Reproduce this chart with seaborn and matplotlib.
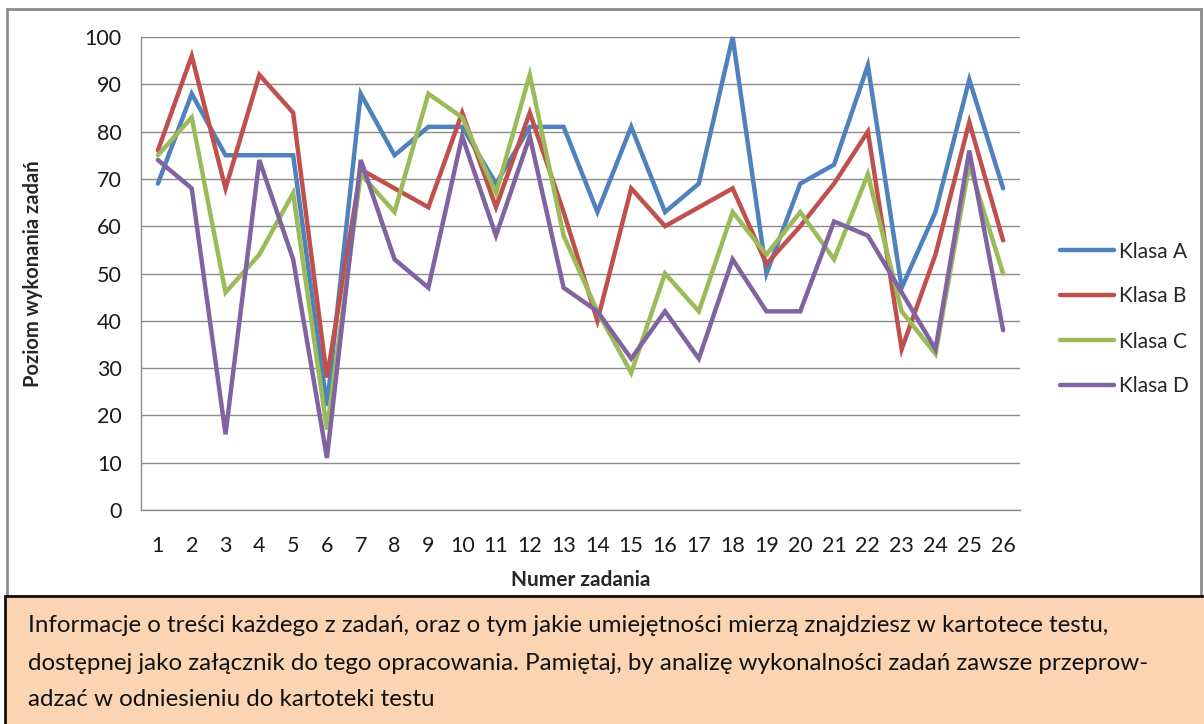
import pandas as pd
import matplotlib.pyplot as plt
import matplotlib.patches as patches
import seaborn as sns

zadania = list(range(1, 27))
klasa_a = [69, 88, 75, 75, 75, 22, 88, 75, 81, 81, 69, 81, 81, 63, 81, 63, 69, 100, 50, 69, 73, 94, 47, 63, 91, 68]
klasa_b = [76, 96, 68, 92, 84, 28, 72, 68, 64, 84, 64, 84, 63, 40, 68, 60, 64, 68, 52, 60, 69, 80, 34, 54, 82, 57]
klasa_c = [75, 83, 46, 54, 67, 17, 71, 63, 88, 83, 67, 92, 58, 42, 29, 50, 42, 63, 54, 63, 53, 71, 42, 33, 73, 50]
klasa_d = [74, 68, 16, 74, 53, 11, 74, 53, 47, 79, 58, 79, 47, 42, 32, 42, 32, 53, 42, 42, 61, 58, 46, 34, 76, 38]
nazwy = ['Klasa A', 'Klasa B', 'Klasa C', 'Klasa D']
kolory = ['#4F81BD', '#C0504D', '#9BBB59', '#8064A2']
opis = ['Informacje o treści każdego z zadań, oraz o tym jakie umiejętności mierzą znajdziesz w kartotece testu,',
        'dostępnej jako załącznik do tego opracowania. Pamiętaj, by analizę wykonalności zadań zawsze przeprow-',
        'adzać w odniesieniu do kartoteki testu']

df = pd.DataFrame({
    'zadanie': zadania * 4,
    'wynik': klasa_a + klasa_b + klasa_c + klasa_d,
    'klasa': [n for n in nazwy for _ in zadania],
})

sns.set_style('white')
plt.rcParams['font.family'] = ['Lato', 'DejaVu Sans']

fig = plt.figure(figsize=(12.04, 7.24), dpi=100)
ax = fig.add_axes([141 / 1204, 1 - 510 / 724, (1020 - 141) / 1204, (510 - 37) / 724])

sns.lineplot(data=df, x='zadanie', y='wynik', hue='klasa', palette=kolory,
             linewidth=3.2, ax=ax, legend=True)
for ln in ax.lines:
    ln.set_clip_on(False)
    ln.set_solid_joinstyle('miter')

ax.set_xlim(0.5, 26.5)
ax.set_ylim(0, 100)
ax.set_yticks(range(0, 101, 10))
ax.set_xticks(zadania)
ax.yaxis.grid(True, color='#8c8c8c', linewidth=1)
ax.xaxis.grid(False)
ax.set_axisbelow(True)
for s in ['top', 'right']:
    ax.spines[s].set_visible(False)
for s in ['left', 'bottom']:
    ax.spines[s].set_color('#8c8c8c')
    ax.spines[s].set_linewidth(1)
ax.tick_params(axis='y', length=8, width=1, color='#8c8c8c', direction='out',
               labelsize=15.5, labelcolor='#1a1a1a', pad=6)
ax.tick_params(axis='x', length=0, labelsize=15.5, labelcolor='#1a1a1a', pad=19)
ax.set_xlabel('Numer zadania', fontsize=15, fontweight='bold', labelpad=10)
ax.set_ylabel('Poziom wykonania zadań', fontsize=14.5, fontweight='bold', labelpad=30)

handles, labels = ax.get_legend_handles_labels()
ax.legend(handles, labels, loc='center left', bbox_to_anchor=(1041 / 1204, 1 - 319 / 724),
          bbox_transform=fig.transFigure, frameon=False, fontsize=15,
          handlelength=2.6, handletextpad=0.25, labelspacing=1.2)

# ramka wykresu i pole z opisem
fig.patches.append(patches.Rectangle((7 / 1204, 1 - 596 / 724), 1194 / 1204, 587 / 724,
                                     transform=fig.transFigure, fill=False,
                                     edgecolor='#8c8c8c', linewidth=2))
fig.patches.append(patches.Rectangle((5 / 1204, -0.01), 1.0, (724 - 596) / 724 + 0.01,
                                     transform=fig.transFigure, facecolor='#FBD4B4',
                                     edgecolor='#111111', linewidth=2))
for y_px, wiersz in zip([625, 663, 700], opis):
    fig.text(28 / 1204, 1 - y_px / 724, wiersz, fontsize=17.4, color='#111111',
             va='center', ha='left')

fig.savefig('out.png', dpi=100)
